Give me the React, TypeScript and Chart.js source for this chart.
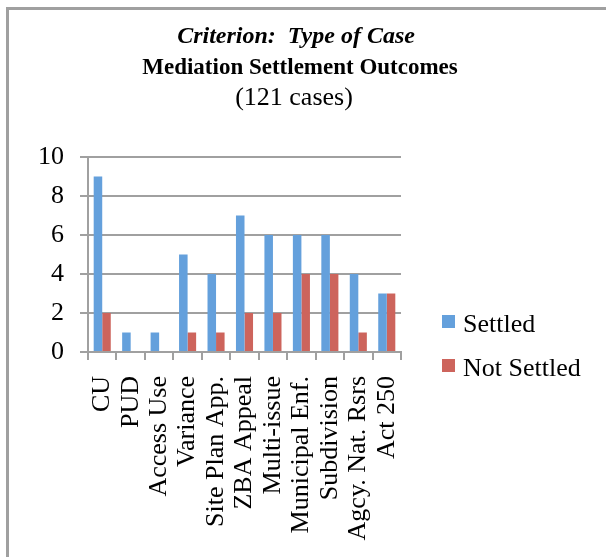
import React, { useEffect, useRef } from "react";
import { Chart, registerables } from "chart.js";

Chart.register(...registerables);

const categories = [
  "CU",
  "PUD",
  "Access Use",
  "Variance",
  "Site Plan App.",
  "ZBA Appeal",
  "Multi-issue",
  "Municipal Enf.",
  "Subdivision",
  "Agcy. Nat. Rsrs",
  "Act 250",
];
const settled = [9, 1, 1, 5, 4, 7, 6, 6, 6, 4, 3];
const notSettled = [2, 0, 0, 1, 1, 2, 2, 4, 4, 1, 3];
const seriesNames = ["Settled", "Not Settled"];
const seriesColors = ["#64a0dc", "#cd645c"];
const titleLines = ["Criterion:  Type of Case", "Mediation Settlement Outcomes", "(121 cases)"];

const W = 606;
const H = 557;
const SERIF = "'Liberation Serif', 'Times New Roman', serif";
const GRID = "#a0a0a0";

const titlePlugin = {
  id: "customTitle",
  afterDraw(chart: any) {
    const ctx = chart.ctx;
    ctx.save();
    ctx.fillStyle = "#000";
    ctx.textAlign = "center";
    ctx.textBaseline = "alphabetic";
    ctx.font = `italic bold 24px ${SERIF}`;
    ctx.fillText(titleLines[0], 296, 43);
    ctx.font = `bold 23px ${SERIF}`;
    ctx.fillText(titleLines[1], 300, 74);
    ctx.font = `26px ${SERIF}`;
    ctx.fillText(titleLines[2], 294, 105);
    ctx.restore();
  },
};

const legendPlugin = {
  id: "customLegend",
  afterDraw(chart: any) {
    const ctx = chart.ctx;
    ctx.save();
    ctx.font = `26px ${SERIF}`;
    ctx.textAlign = "left";
    ctx.textBaseline = "alphabetic";
    chart.data.datasets.forEach((ds: any, i: number) => {
      const y = 315 + i * 44;
      ctx.fillStyle = ds.backgroundColor;
      ctx.fillRect(442, y, 13, 13);
      ctx.fillStyle = "#000";
      ctx.fillText(ds.label, 463, y + 17);
    });
    ctx.restore();
  },
};

export default function App() {
  const ref = useRef<HTMLCanvasElement>(null);

  useEffect(() => {
    if (!ref.current) return;
    const chart = new Chart(ref.current, {
      type: "bar",
      data: {
        labels: categories,
        datasets: [
          { label: seriesNames[0], data: settled, backgroundColor: seriesColors[0], borderWidth: 0 },
          { label: seriesNames[1], data: notSettled, backgroundColor: seriesColors[1], borderWidth: 0 },
        ],
      },
      options: {
        responsive: false,
        animation: false,
        layout: { padding: { top: 157, left: 0, right: 205, bottom: 0 } },
        plugins: {
          legend: { display: false },
          title: { display: false },
          tooltip: { enabled: false },
        },
        datasets: {
          bar: { categoryPercentage: 0.6, barPercentage: 1.0 },
        },
        scales: {
          x: {
            afterFit: (scale: any) => {
              scale.height = H - 352;
            },
            grid: {
              drawOnChartArea: false,
              drawTicks: true,
              tickLength: 8,
              color: GRID,
              lineWidth: 2,
              offset: true,
            },
            border: { display: true, color: GRID, width: 2 },
            ticks: {
              autoSkip: false,
              minRotation: 90,
              maxRotation: 90,
              padding: 16,
              color: "#000",
              font: { family: SERIF, size: 26 },
            },
          },
          y: {
            min: 0,
            max: 10,
            afterFit: (scale: any) => {
              scale.width = 88;
            },
            grid: {
              color: GRID,
              lineWidth: 2,
              tickLength: 8,
            },
            border: { display: true, color: GRID, width: 2 },
            ticks: {
              stepSize: 2,
              padding: 16,
              color: "#000",
              font: { family: SERIF, size: 26 },
            },
          },
        },
      },
      plugins: [titlePlugin, legendPlugin],
    });
    return () => chart.destroy();
  }, []);

  return (
    <div style={{ position: "fixed", left: 0, top: 0, width: W, height: H, overflow: "hidden", background: "#fff" }}>
      <div
        style={{
          position: "absolute",
          left: 6,
          top: 7,
          width: 700,
          height: 700,
          borderLeft: `3px solid ${GRID}`,
          borderTop: `3px solid ${GRID}`,
        }}
      />
      <canvas
        ref={ref}
        width={W}
        height={H}
        style={{ position: "absolute", left: 0, top: 0, width: W, height: H }}
      />
    </div>
  );
}
